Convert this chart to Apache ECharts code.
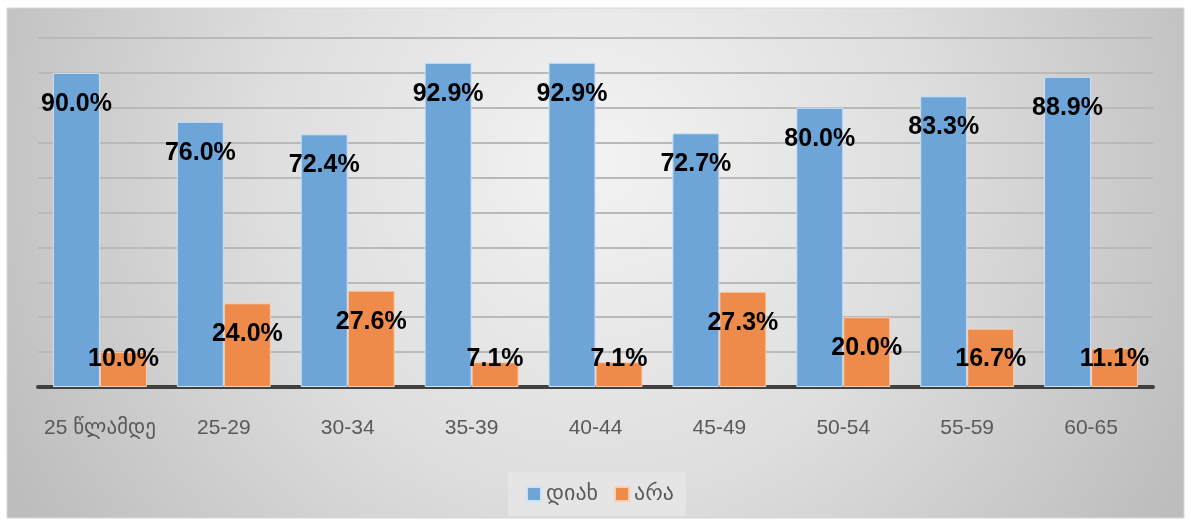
<!DOCTYPE html>
<html>
<head>
<meta charset="utf-8">
<script src="https://cdn.jsdelivr.net/npm/echarts@6/dist/echarts.min.js"></script>
<style>
html,body{margin:0;padding:0;background:#fff;}
#chart{width:1191px;height:526px;}
</style>
</head>
<body>
<div id="chart"></div>
<script>
const categories = ['25 წლამდე', '25-29', '30-34', '35-39', '40-44', '45-49', '50-54', '55-59', '60-65'];
const yesValues = [90.0, 76.0, 72.4, 92.9, 92.9, 72.7, 80.0, 83.3, 88.9];
const noValues = [10.0, 24.0, 27.6, 7.1, 7.1, 27.3, 20.0, 16.7, 11.1];
const seriesNames = ['დიახ', 'არა'];

const chart = echarts.init(document.getElementById('chart'));

const labelCfg = {
  show: true,
  position: 'insideTop',
  color: '#000',
  fontWeight: 'bold',
  fontSize: 25,
  fontFamily: 'Liberation Sans, Arial, sans-serif',
  formatter: p => p.value.toFixed(1) + '%'
};
const labelLayout = p => {
  const r = p.rect;
  const cy = Math.min(r.y + 31, r.y + r.height - 28);
  return { x: r.x + r.width / 2, y: cy, align: 'center', verticalAlign: 'middle' };
};

chart.setOption({
  backgroundColor: '#ffffff',
  animation: false,
  graphic: [{
    type: 'rect',
    z: -10,
    silent: true,
    shape: { x: 7, y: 8, width: 1177, height: 510 },
    style: {
      fill: new echarts.graphic.RadialGradient(0.5, 0.3, 1.3, [
        { offset: 0, color: '#f3f3f3' },
        { offset: 0.5, color: '#dedede' },
        { offset: 1, color: '#bdbdbd' }
      ]),
      stroke: '#d6d6d6',
      lineWidth: 1
    }
  }],
  grid: { left: 38, right: 38, top: 38, bottom: 139 },
  legend: {
    data: seriesNames,
    left: 508,
    top: 472,
    padding: [11, 12, 11, 18],
    backgroundColor: '#e5e5e5',
    itemWidth: 14,
    itemHeight: 14,
    itemGap: 16,
    icon: 'rect',
    textStyle: { color: '#595959', fontSize: 22, fontFamily: 'DejaVu Sans, sans-serif' }
  },
  xAxis: {
    type: 'category',
    data: categories,
    axisLine: { lineStyle: { color: '#404040', width: 4 } },
    axisTick: { show: false },
    axisLabel: {
      interval: 0,
      color: '#595959',
      fontSize: 21,
      margin: 31,
      fontFamily: 'Liberation Sans, DejaVu Sans, sans-serif',
      rich: {}
    }
  },
  yAxis: {
    type: 'value',
    min: 0,
    max: 100,
    interval: 10,
    axisLabel: { show: false },
    axisLine: { show: false },
    axisTick: { show: false },
    splitLine: { lineStyle: { color: '#b9b9b9', width: 2 } }
  },
  series: [
    {
      name: seriesNames[0],
      type: 'bar',
      data: yesValues,
      barWidth: 47,
      barGap: '0%',
      itemStyle: { color: '#6ea5d9', borderColor: '#cfe1f2', borderWidth: 1 },
      label: labelCfg,
      labelLayout: labelLayout
    },
    {
      name: seriesNames[1],
      type: 'bar',
      data: noValues,
      barWidth: 47,
      barGap: '0%',
      itemStyle: { color: '#ee8b4a', borderColor: '#f8cfb2', borderWidth: 1 },
      label: labelCfg,
      labelLayout: labelLayout
    }
  ]
});
</script>
</body>
</html>
